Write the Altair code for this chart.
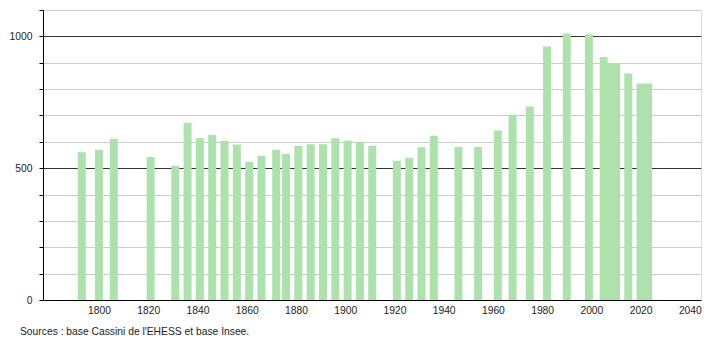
import altair as alt
import pandas as pd

years = [1793, 1800, 1806, 1821, 1831, 1836, 1841, 1846, 1851, 1856,
         1861, 1866, 1872, 1876, 1881, 1886, 1891, 1896, 1901, 1906,
         1911, 1921, 1926, 1931, 1936, 1946, 1954, 1962, 1968, 1975,
         1982, 1990, 1999, 2005, 2008, 2010, 2015, 2020, 2023]
population = [560, 570, 612, 542, 509, 671, 614, 626, 604, 590,
              523, 547, 570, 555, 585, 591, 591, 614, 604, 599,
              585, 528, 540, 579, 623, 580, 580, 643, 703, 734,
              962, 1011, 1008, 922, 897, 897, 859, 821, 821]

x_ticks = [1800, 1820, 1840, 1860, 1880, 1900, 1920, 1940, 1960, 1980, 2000, 2020, 2040]
y_ticks = [0, 100, 200, 300, 400, 500, 600, 700, 800, 900, 1000, 1100]
source_note = "Sources : base Cassini de l'EHESS et base Insee."

df = pd.DataFrame({"year": years, "pop": population})

FONT = "Liberation Sans"

chart = alt.Chart(df).mark_bar(size=8, color="#ade2ad").encode(
    x=alt.X("year:Q",
            scale=alt.Scale(domain=[1779.3, 2042.5], nice=False, zero=False),
            axis=alt.Axis(values=x_ticks, format="d", title=None, grid=False,
                          ticks=False, tickSize=0, labelPadding=5,
                          domainColor="#000000", domainWidth=1,
                          labelFont=FONT, labelFontSize=10.3, labelColor="#222222",
                          labelFlush=False, labelOverlap=False)),
    y=alt.Y("pop:Q",
            scale=alt.Scale(domain=[0, 1100], nice=False),
            axis=alt.Axis(values=y_ticks, format="d", title=None, grid=True,
                          gridColor={"condition": {"test": "datum.value % 500 === 0 && datum.value > 0", "value": "#333333"}, "value": "#cccccc"},
                          gridWidth=1,
                          labelExpr="datum.value % 500 === 0 ? datum.label : ''",
                          tickSize=4, tickColor="#000000", labelPadding=7,
                          domainColor="#000000", domainWidth=1,
                          labelFont=FONT, labelFontSize=10.3, labelColor="#222222",
                          labelFlush=False, labelOverlap=False)),
).properties(
    width=658,
    height=290,
    title=alt.TitleParams(text=source_note, orient="bottom", anchor="start", frame="group",
                          dx=-23, offset=12, font=FONT, fontSize=10.3, fontWeight="normal",
                          color="#222222"),
    autosize=alt.AutoSizeParams(type="none"),
    padding={"left": 43, "top": 10, "right": 9, "bottom": 40},
).configure_view(stroke=None).configure(background="white")

chart.save("out.html", embed_options={"renderer": "svg", "actions": False})
